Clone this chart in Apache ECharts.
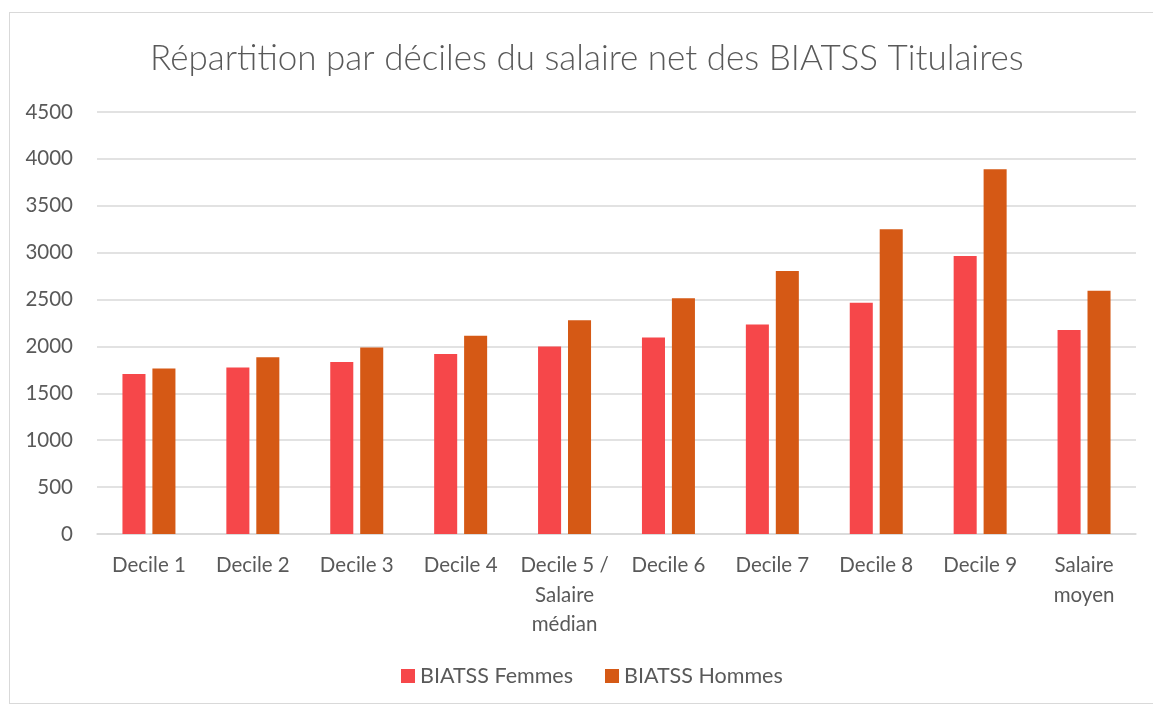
<!DOCTYPE html>
<html>
<head>
<meta charset="utf-8">
<script src="https://cdn.jsdelivr.net/npm/echarts@6/dist/echarts.min.js"></script>
<style>
  html, body { margin: 0; padding: 0; background: #fff; }
  #frame { position: absolute; left: 9px; top: 12px; width: 1160px; height: 692px; border: 1px solid #d9d9d9; box-sizing: border-box; }
  #chart { width: 1153px; height: 708px; position: absolute; left: 0; top: 0; }
</style>
</head>
<body>
<div id="frame"></div>
<div id="chart"></div>
<script>
// Net salary deciles, BIATSS tenured staff
const categories = ['Decile 1', 'Decile 2', 'Decile 3', 'Decile 4', 'Decile 5 /\nSalaire\nmédian', 'Decile 6', 'Decile 7', 'Decile 8', 'Decile 9', 'Salaire\nmoyen'];
const femmes = [1705, 1775, 1835, 1920, 2000, 2095, 2235, 2465, 2965, 2175];
const hommes = [1765, 1885, 1990, 2115, 2280, 2515, 2805, 3250, 3890, 2595];

const textColor = '#595959';
const fontFamily = 'Lato, "Open Sans", sans-serif';

const chart = echarts.init(document.getElementById('chart'));
chart.setOption({
  animation: false,
  textStyle: { fontFamily: fontFamily },
  title: {
    text: 'Répartition par déciles du salaire net des BIATSS Titulaires',
    left: 145,
    top: 36,
    textStyle: { fontFamily: fontFamily, fontSize: 35, fontWeight: 300, color: textColor }
  },
  legend: {
    bottom: 16,
    left: 396,
    itemWidth: 14,
    itemHeight: 14,
    itemGap: 32,
    icon: 'rect',
    textStyle: { fontFamily: fontFamily, fontSize: 21.5, color: textColor }
  },
  grid: { left: 97, right: 17, top: 112, bottom: 174, containLabel: false },
  xAxis: {
    type: 'category',
    data: categories,
    axisLine: { lineStyle: { color: '#d9d9d9', width: 1.5 } },
    axisTick: { show: false },
    axisLabel: { fontFamily: fontFamily, fontSize: 20.5, color: textColor, margin: 17, lineHeight: 29.5, interval: 0 }
  },
  yAxis: {
    type: 'value',
    min: 0,
    max: 4500,
    interval: 500,
    axisLine: { show: false },
    axisTick: { show: false },
    splitLine: { lineStyle: { color: '#d9d9d9', width: 1.5 } },
    axisLabel: { fontFamily: fontFamily, fontSize: 20.5, color: textColor, margin: 24, formatter: function (v) { return String(v); } }
  },
  series: [
    {
      name: 'BIATSS Femmes',
      type: 'bar',
      data: femmes,
      barGap: '30%',
      barCategoryGap: '49%',
      itemStyle: { color: '#f6474a' }
    },
    {
      name: 'BIATSS Hommes',
      type: 'bar',
      data: hommes,
      itemStyle: { color: '#d55915' }
    }
  ]
});
</script>
</body>
</html>
